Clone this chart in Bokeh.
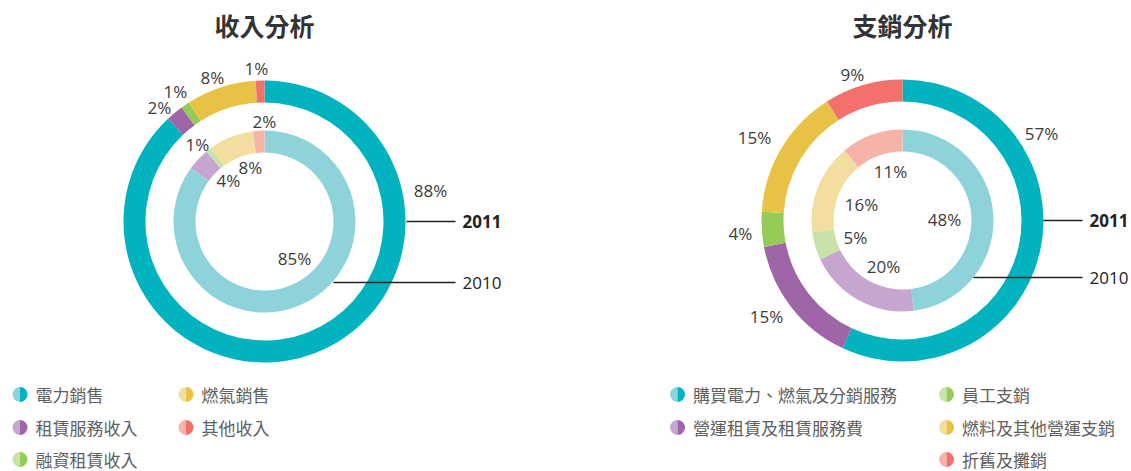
import math
from bokeh.plotting import figure
from bokeh.models import Range1d, ColumnDataSource
from bokeh.core.properties import value
from bokeh.embed import file_html
from bokeh.resources import INLINE

# ---------------- data ----------------
left_title = "收入分析"
left_cats = ["電力銷售", "租賃服務收入", "融資租賃收入", "燃氣銷售", "其他收入"]
left_2011 = [88, 2, 1, 8, 1]
left_2010 = [85, 4, 1, 8, 2]

right_title = "支銷分析"
right_cats = ["購買電力、燃氣及分銷服務", "營運租賃及租賃服務費", "員工支銷", "燃料及其他營運支銷", "折舊及攤銷"]
right_2011 = [57, 15, 4, 15, 9]
right_2010 = [48, 20, 5, 16, 11]

year_labels = ["2011", "2010"]

# ---------------- styles ----------------
dark = ["#00B3BE", "#A064A9", "#97CB59", "#E7C244", "#F2716C"]
light = ["#8FD3DA", "#C6A6CE", "#C8E3A9", "#F3DE9F", "#F8B3A8"]
CJK = "Noto Sans CJK TC"
LAT = "Open Sans"
W, H = 1131, 471
PAGE_H = 471

p = figure(width=W, height=H, x_range=Range1d(0, W), y_range=Range1d(0, H),
           output_backend="svg", toolbar_location=None, min_border=0)
p.axis.visible = False
p.grid.visible = False
p.outline_line_color = None
p.background_fill_color = "white"


def Y(py):
    return PAGE_H - py


def donut(cx, cy, vals, r0, r1, colors):
    total = float(sum(vals))
    starts, ends = [], []
    cum = 0.0
    for v in vals:
        starts.append(math.pi / 2 - 2 * math.pi * cum / total)
        cum += v
        ends.append(math.pi / 2 - 2 * math.pi * cum / total)
    src = ColumnDataSource(dict(x=[cx] * len(vals), y=[Y(cy)] * len(vals),
                                s=starts, e=ends, c=colors))
    p.annular_wedge(x="x", y="y", inner_radius=r0, outer_radius=r1,
                    start_angle="s", end_angle="e", direction="clock",
                    fill_color="c", line_color=None, source=src)


def labels(cx, cy, vals, offsets):
    xs = [cx + dx for dx, dy in offsets]
    ys = [Y(cy + dy) for dx, dy in offsets]
    txt = [f"{v}%" for v in vals]
    p.text(x=xs, y=ys, text=txt, text_font=value(LAT), text_font_size="17px",
           text_color="#3c3c3c", text_align="center", text_baseline="middle")


def chart(cx, cy, title, v11, v10, off11, off10):
    p.text(x=[cx], y=[Y(24)], text=[title], text_font=value(CJK), text_font_size="25px",
           text_font_style="bold", text_color="#333333", text_align="center",
           text_baseline="middle")
    donut(cx, cy, v11, 119, 141, dark)
    donut(cx, cy, v10, 69, 91, light)
    labels(cx, cy, v11, off11)
    labels(cx, cy, v10, off10)


def callout(x0, x1, yy, lab, bold):
    p.line(x=[x0, x1], y=[Y(yy), Y(yy)], line_color="#222222", line_width=1.3)
    p.text(x=[x1 + 7], y=[Y(yy)], text=[lab], text_font=value(LAT), text_font_size="17px",
           text_font_style="bold" if bold else "normal", text_color="#222222",
           text_align="left", text_baseline="middle")


def legend(items, x, ys, colors_d, colors_l):
    for (lab, cd, cl), yy in zip(zip(items, colors_d, colors_l), ys):
        p.wedge(x=[x], y=[Y(yy)], radius=7.5, start_angle=math.pi / 2, end_angle=3 * math.pi / 2,
                fill_color=cl, line_color=None)
        p.wedge(x=[x], y=[Y(yy)], radius=7.5, start_angle=-math.pi / 2, end_angle=math.pi / 2,
                fill_color=cd, line_color=None)
        p.text(x=[x + 15.5], y=[Y(yy)], text=[lab], text_font=value(CJK), text_font_size="17px",
               text_color="#606060", text_align="left", text_baseline="middle")


rows = [394, 427, 459]

# left chart
lcx, lcy = 264, 221
chart(lcx, lcy, left_title, left_2011, left_2010,
      [(166, -31), (-105, -114), (-89, -130), (-52, -144), (-8, -153)],
      [(30, 37), (-36, -41), (-67, -77), (-14, -54), (0, -100)])
callout(406, 455, 221, year_labels[0], True)
callout(333, 455, 282, year_labels[1], False)
legend(left_cats[:3], 19.5, rows, dark[:3], light[:3])
legend(left_cats[3:], 185.5, rows, dark[3:], light[3:])

# right chart
rcx, rcy = 902, 220
chart(rcx, rcy, right_title, right_2011, right_2010,
      [(139, -87), (-136, 96), (-162, 13), (-148, -83), (-50, -146)],
      [(42, -1), (-19, 46), (-47, 17), (-41, -16), (-12, -49)])
callout(1043, 1082, 220, year_labels[0], True)
callout(973, 1082, 277, year_labels[1], False)
legend(right_cats[:2], 677, rows, dark[:2], light[:2])
legend(right_cats[2:], 946, rows, dark[2:], light[2:])

open("out.html", "w").write(file_html(p, INLINE))
